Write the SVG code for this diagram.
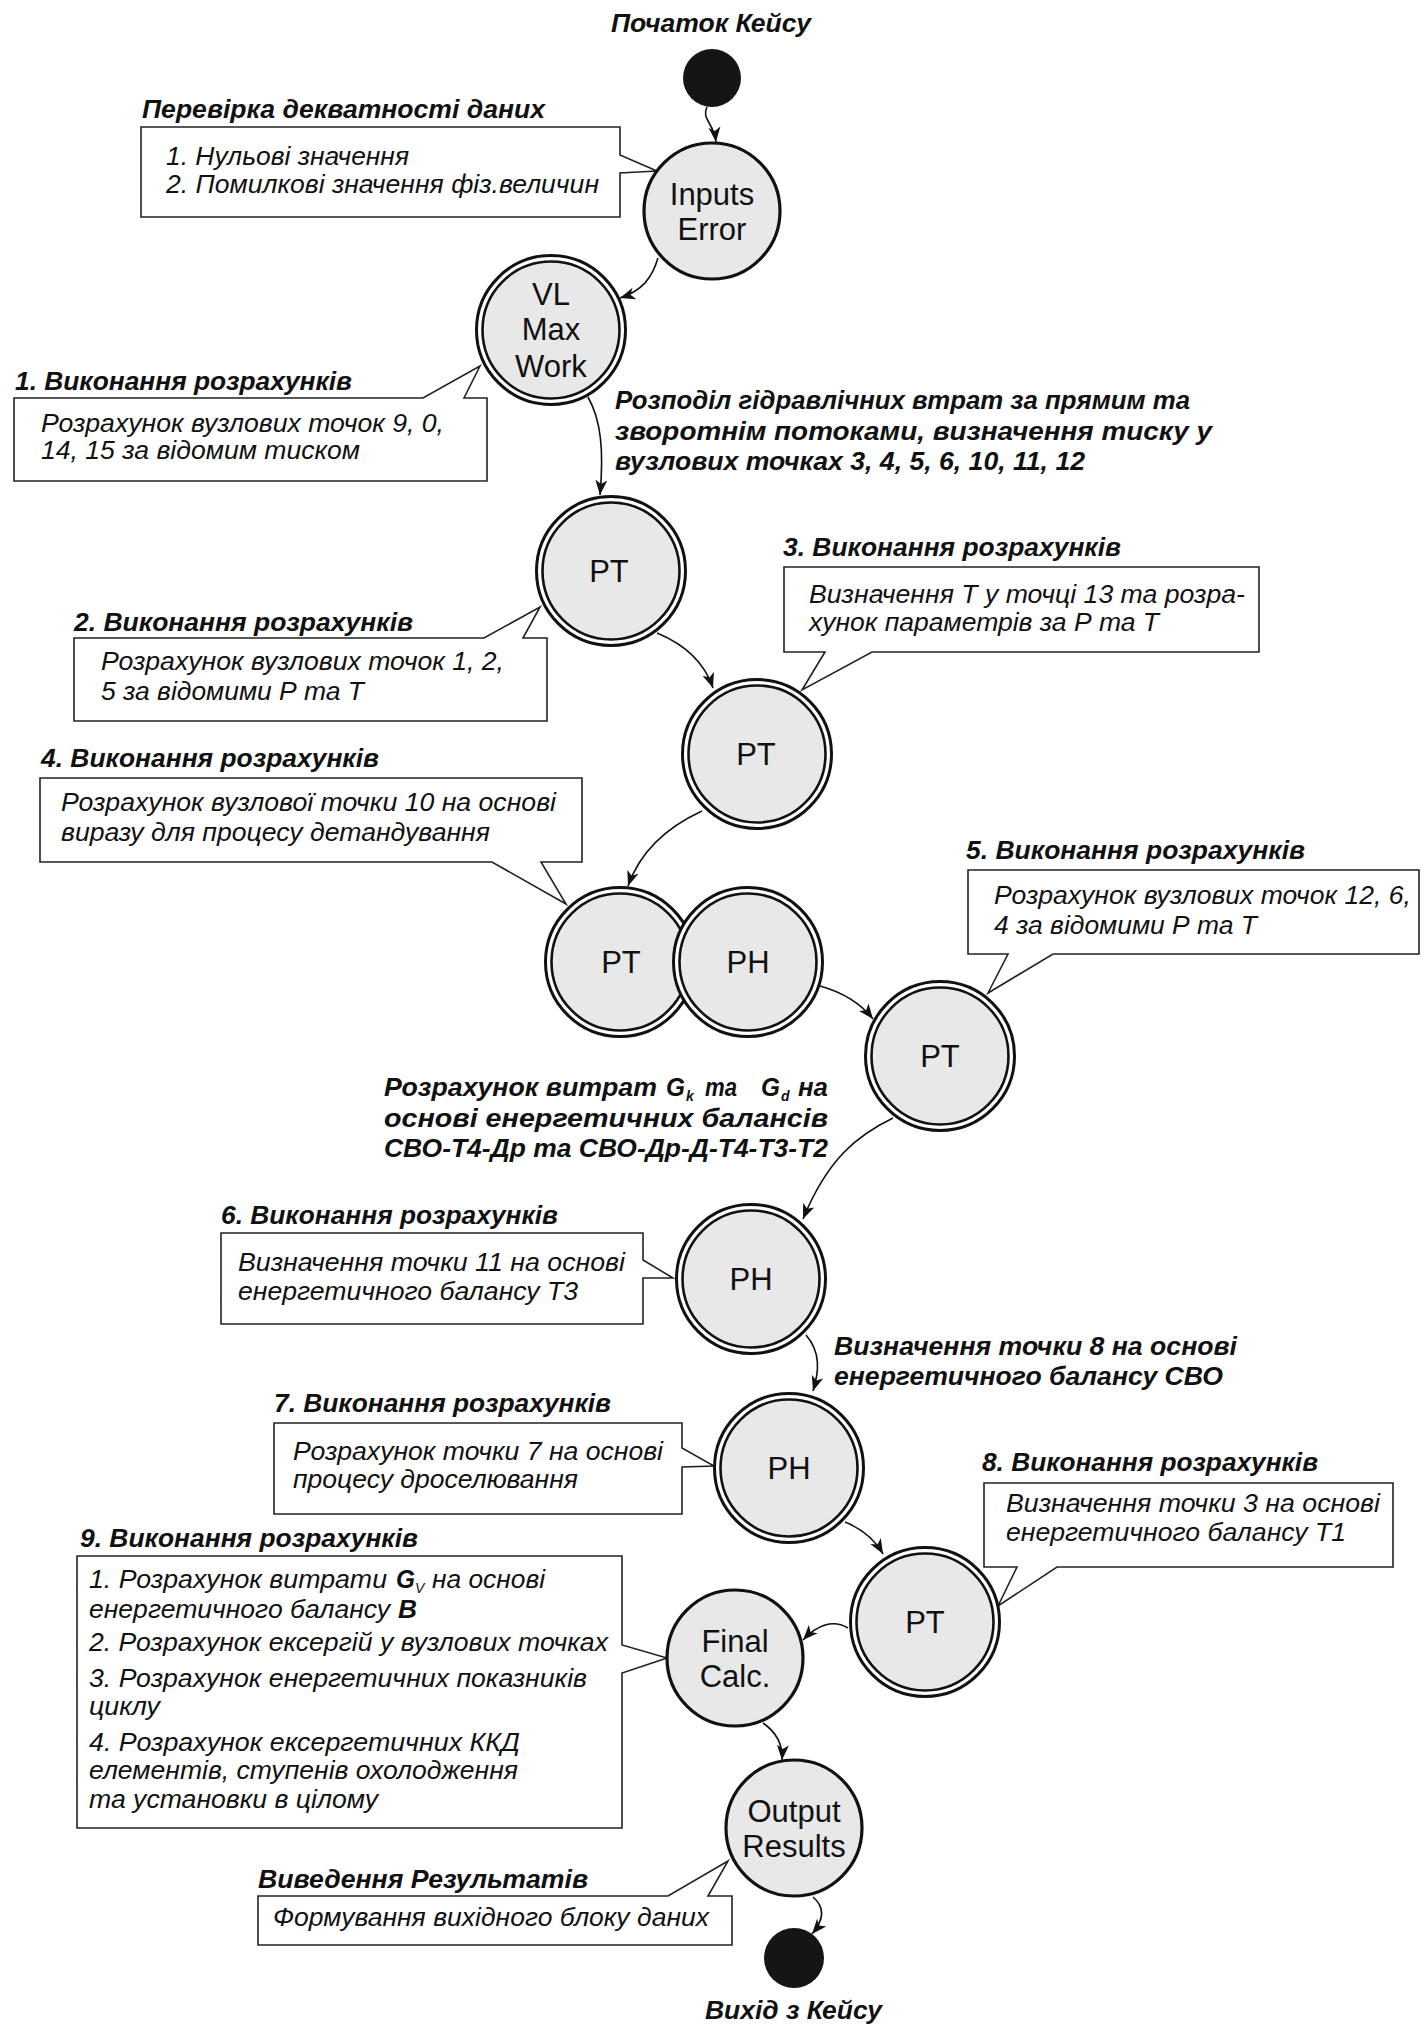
<svg xmlns="http://www.w3.org/2000/svg" width="1421" height="2026" viewBox="0 0 1421 2026">
<style>
.ring{fill:#fff;stroke:#111;stroke-width:3}
.inner{fill:#e8e8e8;stroke:#111;stroke-width:2.6}
.single{fill:#e8e8e8;stroke:#111;stroke-width:3.2}
.term{fill:#151515}
.lbl{font-family:"Liberation Sans",Arial,sans-serif;font-size:31px;text-anchor:middle;fill:#111}
.note{fill:#fff;stroke:#222;stroke-width:1.6}
.t{font-family:"Liberation Sans",Arial,sans-serif;font-size:25.5px;font-style:italic;fill:#111}
.b{font-weight:bold}
.sub{font-size:14px}
.conn{fill:none;stroke:#111;stroke-width:1.6;marker-end:url(#arr)}
</style>
<defs>
<marker id="arr" markerWidth="16" markerHeight="14" refX="15" refY="7" orient="auto" markerUnits="userSpaceOnUse">
<path d="M0,1 L15,7 L0,13 L4,7 Z" fill="#111"/>
</marker>
</defs>
<rect width="1421" height="2026" fill="#fff"/>

<g id="connectors">
<path class="conn" d="M707,107 C701,119 714,123 716,142"/>
<path class="conn" d="M658,258 C652,278 642,291 620,298"/>
<path class="conn" d="M588,397 C601,420 604,450 600,495"/>
<path class="conn" d="M657,633 C686,645 705,664 713,688"/>
<path class="conn" d="M702,811 C665,828 640,852 628,886"/>
<path class="conn" d="M820,986 C845,993 862,1005 873,1019"/>
<path class="conn" d="M893,1118 C858,1135 828,1158 803,1219"/>
<path class="conn" d="M806,1335 C821,1352 819,1372 813,1391"/>
<path class="conn" d="M845,1522 C862,1529 875,1540 883,1554"/>
<path class="conn" d="M848,1628 C833,1619 817,1625 803,1640"/>
<path class="conn" d="M763,1723 C776,1732 783,1744 782,1760"/>
<path class="conn" d="M813,1897 C826,1908 823,1921 812,1934"/>
</g>

<g id="start">
<text class="t b" x="611" y="32" textLength="200" lengthAdjust="spacingAndGlyphs">Початок Кейсу</text>
<circle class="term" cx="712" cy="78" r="29"/>
</g>

<g id="note-check">
<text class="t b" x="142" y="118" textLength="403" lengthAdjust="spacingAndGlyphs">Перевірка декватності даних</text>
<path class="note" d="M141,127 H620 V155 L657,171 L620,173 V217 H141 Z"/>
<text class="t" x="166" y="165" textLength="243" lengthAdjust="spacingAndGlyphs">1. Нульові значення</text>
<text class="t" x="166" y="193" textLength="433" lengthAdjust="spacingAndGlyphs">2. Помилкові значення фіз.величин</text>
</g>

<g id="inputs-error">
<circle class="single" cx="712" cy="211" r="68"/>
<text class="lbl" x="712" y="205">Inputs</text>
<text class="lbl" x="712" y="240">Error</text>
</g>

<g id="vl-max-work">
<circle class="ring" cx="551" cy="330" r="74.5"/>
<circle class="inner" cx="551" cy="330" r="68.5"/>
<text class="lbl" x="551" y="305">VL</text>
<text class="lbl" x="551" y="340">Max</text>
<text class="lbl" x="551" y="377">Work</text>
</g>

<g id="note-1">
<text class="t b" x="15" y="390" textLength="337" lengthAdjust="spacingAndGlyphs">1. Виконання розрахунків</text>
<path class="note" d="M14,398 H423 L480,366 L464,398 H487 V481 H14 Z"/>
<text class="t" x="41" y="432" textLength="403" lengthAdjust="spacingAndGlyphs">Розрахунок вузлових точок 9, 0,</text>
<text class="t" x="41" y="459" textLength="319" lengthAdjust="spacingAndGlyphs">14, 15 за відомим тиском</text>
</g>

<g id="label-hydraulic">
<text class="t b" x="615" y="409" textLength="575" lengthAdjust="spacingAndGlyphs">Розподіл гідравлічних втрат за прямим та</text>
<text class="t b" x="615" y="440" textLength="597" lengthAdjust="spacingAndGlyphs">зворотнім  потоками,  визначення  тиску  у</text>
<text class="t b" x="615" y="470" textLength="470" lengthAdjust="spacingAndGlyphs">вузлових точках 3, 4, 5, 6, 10, 11, 12</text>
</g>

<g id="pt-1">
<circle class="ring" cx="611" cy="571" r="74.5"/>
<circle class="inner" cx="611" cy="571" r="68.5"/>
<text class="lbl" x="609" y="582">PT</text>
</g>

<g id="note-2">
<text class="t b" x="74" y="631" textLength="339" lengthAdjust="spacingAndGlyphs">2. Виконання розрахунків</text>
<path class="note" d="M74,638 H484 L540,607 L523,638 H547 V721 H74 Z"/>
<text class="t" x="101" y="670" textLength="403" lengthAdjust="spacingAndGlyphs">Розрахунок вузлових точок 1, 2,</text>
<text class="t" x="101" y="700" textLength="263" lengthAdjust="spacingAndGlyphs">5 за відомими Р та Т</text>
</g>

<g id="note-3">
<text class="t b" x="783" y="556" textLength="338" lengthAdjust="spacingAndGlyphs">3. Виконання розрахунків</text>
<path class="note" d="M784,567 H1259 V652 H872 L802,690 L825,652 H784 Z"/>
<text class="t" x="809" y="603" textLength="436" lengthAdjust="spacingAndGlyphs">Визначення Т у точці 13 та розра-</text>
<text class="t" x="809" y="631" textLength="350" lengthAdjust="spacingAndGlyphs">хунок параметрів за Р та Т</text>
</g>

<g id="pt-2">
<circle class="ring" cx="757" cy="754" r="74.5"/>
<circle class="inner" cx="757" cy="754" r="68.5"/>
<text class="lbl" x="756" y="765">PT</text>
</g>

<g id="note-4">
<text class="t b" x="41" y="767" textLength="338" lengthAdjust="spacingAndGlyphs">4. Виконання розрахунків</text>
<path class="note" d="M40,778 H582 V862 H541 L566,904 L492,862 H40 Z"/>
<text class="t" x="61" y="811" textLength="495" lengthAdjust="spacingAndGlyphs">Розрахунок вузлової точки 10 на основі</text>
<text class="t" x="61" y="841" textLength="429" lengthAdjust="spacingAndGlyphs">виразу для процесу детандування</text>
</g>

<g id="pt-3">
<circle class="ring" cx="620" cy="962" r="74.5"/>
<circle class="inner" cx="620" cy="962" r="68.5"/>
<text class="lbl" x="621" y="973">PT</text>
</g>

<g id="ph-1">
<circle class="ring" cx="748" cy="962" r="74.5"/>
<circle class="inner" cx="748" cy="962" r="68.5"/>
<text class="lbl" x="748" y="973">PH</text>
</g>

<g id="note-5">
<text class="t b" x="966" y="859" textLength="339" lengthAdjust="spacingAndGlyphs">5. Виконання розрахунків</text>
<path class="note" d="M968,870 H1419 V954 H1053 L988,993 L1008,954 H968 Z"/>
<text class="t" x="994" y="904" textLength="417" lengthAdjust="spacingAndGlyphs">Розрахунок вузлових точок 12, 6,</text>
<text class="t" x="994" y="934" textLength="263" lengthAdjust="spacingAndGlyphs">4 за відомими Р та Т</text>
</g>

<g id="pt-4">
<circle class="ring" cx="940" cy="1056" r="74.5"/>
<circle class="inner" cx="940" cy="1056" r="68.5"/>
<text class="lbl" x="940" y="1067">PT</text>
</g>

<g id="label-flows">
<text class="t b" x="384" y="1096" textLength="273" lengthAdjust="spacingAndGlyphs">Розрахунок витрат</text>
<text class="t b" x="666" y="1096" textLength="19" lengthAdjust="spacingAndGlyphs">G</text>
<text class="t b sub" x="686" y="1101">k</text>
<text class="t b" x="705" y="1096" textLength="32" lengthAdjust="spacingAndGlyphs">та</text>
<text class="t b" x="761" y="1096" textLength="19" lengthAdjust="spacingAndGlyphs">G</text>
<text class="t b sub" x="781" y="1101">d</text>
<text class="t b" x="798" y="1096" textLength="30" lengthAdjust="spacingAndGlyphs">на</text>
<text class="t b" x="384" y="1127" textLength="444" lengthAdjust="spacingAndGlyphs">основі  енергетичних  балансів</text>
<text class="t b" x="384" y="1157" textLength="444" lengthAdjust="spacingAndGlyphs">СВО-Т4-Др та СВО-Др-Д-Т4-Т3-Т2</text>
</g>

<g id="note-6">
<text class="t b" x="221" y="1224" textLength="337" lengthAdjust="spacingAndGlyphs">6. Виконання розрахунків</text>
<path class="note" d="M221,1233 H643 V1260 L673,1278 L643,1278 V1324 H221 Z"/>
<text class="t" x="238" y="1271" textLength="387" lengthAdjust="spacingAndGlyphs">Визначення точки 11 на основі</text>
<text class="t" x="238" y="1300" textLength="340" lengthAdjust="spacingAndGlyphs">енергетичного балансу Т3</text>
</g>

<g id="ph-2">
<circle class="ring" cx="751" cy="1279" r="74.5"/>
<circle class="inner" cx="751" cy="1279" r="68.5"/>
<text class="lbl" x="751" y="1290">PH</text>
</g>

<g id="label-point8">
<text class="t b" x="834" y="1355" textLength="403" lengthAdjust="spacingAndGlyphs">Визначення точки 8 на основі</text>
<text class="t b" x="834" y="1385" textLength="389" lengthAdjust="spacingAndGlyphs">енергетичного балансу СВО</text>
</g>

<g id="note-7">
<text class="t b" x="274" y="1412" textLength="337" lengthAdjust="spacingAndGlyphs">7. Виконання розрахунків</text>
<path class="note" d="M274,1423 H682 V1448 L714,1466 L682,1467 V1514 H274 Z"/>
<text class="t" x="293" y="1460" textLength="370" lengthAdjust="spacingAndGlyphs">Розрахунок точки 7 на основі</text>
<text class="t" x="293" y="1488" textLength="285" lengthAdjust="spacingAndGlyphs">процесу дроселювання</text>
</g>

<g id="ph-3">
<circle class="ring" cx="789" cy="1468" r="74.5"/>
<circle class="inner" cx="789" cy="1468" r="68.5"/>
<text class="lbl" x="789" y="1479">PH</text>
</g>

<g id="note-8">
<text class="t b" x="982" y="1471" textLength="336" lengthAdjust="spacingAndGlyphs">8. Виконання розрахунків</text>
<path class="note" d="M984,1483 H1393 V1567 H1057 L998,1606 L1017,1567 H984 Z"/>
<text class="t" x="1006" y="1512" textLength="374" lengthAdjust="spacingAndGlyphs">Визначення точки 3 на основі</text>
<text class="t" x="1006" y="1541" textLength="340" lengthAdjust="spacingAndGlyphs">енергетичного балансу Т1</text>
</g>

<g id="pt-5">
<circle class="ring" cx="925" cy="1622" r="74.5"/>
<circle class="inner" cx="925" cy="1622" r="68.5"/>
<text class="lbl" x="925" y="1633">PT</text>
</g>

<g id="note-9">
<text class="t b" x="80" y="1547" textLength="338" lengthAdjust="spacingAndGlyphs">9. Виконання розрахунків</text>
<path class="note" d="M77,1556 H622 V1645 L667,1658 L622,1673 V1828 H77 Z"/>
<text class="t" x="89" y="1588" textLength="298" lengthAdjust="spacingAndGlyphs">1. Розрахунок витрати</text>
<text class="t b" x="396" y="1588" textLength="19" lengthAdjust="spacingAndGlyphs">G</text>
<text class="t sub" x="415" y="1593">V</text>
<text class="t" x="432" y="1588" textLength="113" lengthAdjust="spacingAndGlyphs">на основі</text>
<text class="t" x="89" y="1618" textLength="301" lengthAdjust="spacingAndGlyphs">енергетичного балансу</text>
<text class="t b" x="398" y="1618" textLength="19" lengthAdjust="spacingAndGlyphs">B</text>
<text class="t" x="89" y="1651" textLength="519" lengthAdjust="spacingAndGlyphs">2. Розрахунок ексергій у вузлових точках</text>
<text class="t" x="89" y="1687" textLength="498" lengthAdjust="spacingAndGlyphs">3. Розрахунок енергетичних показників</text>
<text class="t" x="89" y="1715" textLength="71" lengthAdjust="spacingAndGlyphs">циклу</text>
<text class="t" x="89" y="1751" textLength="431" lengthAdjust="spacingAndGlyphs">4. Розрахунок ексергетичних ККД</text>
<text class="t" x="89" y="1779" textLength="429" lengthAdjust="spacingAndGlyphs">елементів, ступенів охолодження</text>
<text class="t" x="89" y="1808" textLength="289" lengthAdjust="spacingAndGlyphs">та установки в цілому</text>
</g>

<g id="final-calc">
<circle class="single" cx="735" cy="1658" r="68"/>
<text class="lbl" x="735" y="1652">Final</text>
<text class="lbl" x="735" y="1687">Calc.</text>
</g>

<g id="output-results">
<circle class="single" cx="794" cy="1828" r="68"/>
<text class="lbl" x="794" y="1822">Output</text>
<text class="lbl" x="794" y="1857">Results</text>
</g>

<g id="note-output">
<text class="t b" x="258" y="1888" textLength="330" lengthAdjust="spacingAndGlyphs">Виведення Результатів</text>
<path class="note" d="M258,1896 H668 L728,1861 L708,1896 H732 V1945 H258 Z"/>
<text class="t" x="273" y="1926" textLength="436" lengthAdjust="spacingAndGlyphs">Формування вихідного блоку даних</text>
</g>

<g id="end">
<circle class="term" cx="794" cy="1958" r="30"/>
<text class="t b" x="705" y="2019" textLength="177" lengthAdjust="spacingAndGlyphs">Вихід з Кейсу</text>
</g>
</svg>
